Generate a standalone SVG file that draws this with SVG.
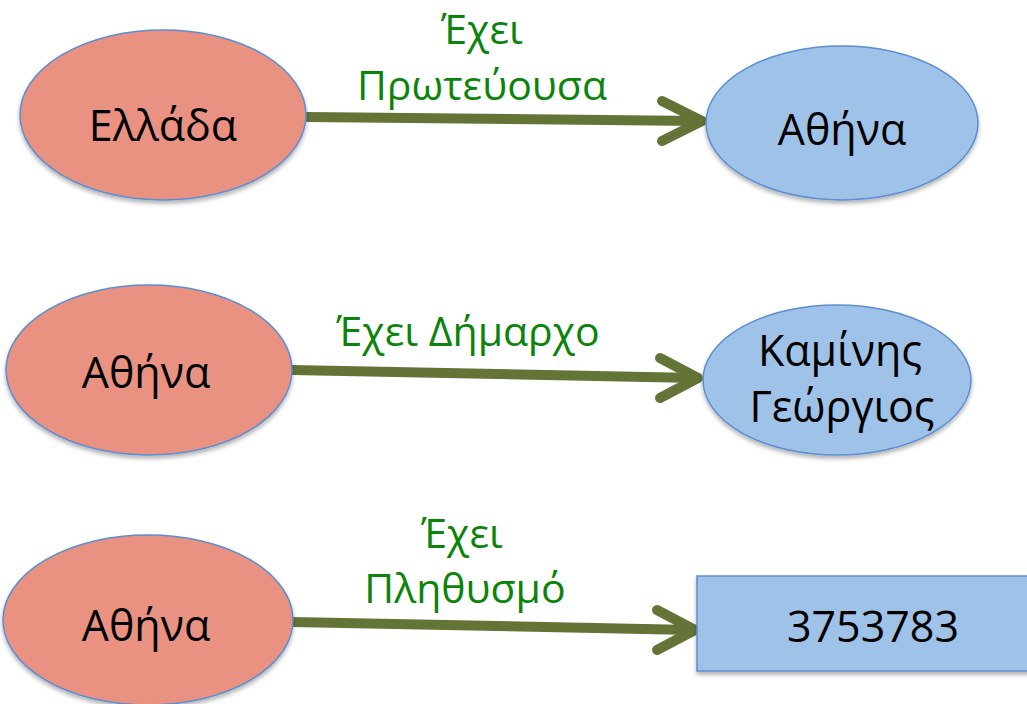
<svg xmlns="http://www.w3.org/2000/svg" width="1027" height="704" viewBox="0 0 1027 704">
<style>
.n{stroke:#5b8ed1;stroke-width:1.5;filter:url(#sh)}
.pink{fill:#e99282}
.blue{fill:#9fc2e8}
.t{font-family:"Open Sans","Noto Sans",sans-serif;font-size:43px;fill:#000;text-anchor:middle}
.l{font-family:"Open Sans","Noto Sans",sans-serif;font-size:41px;fill:#0a840a;text-anchor:middle}
.e{stroke:#647436;stroke-width:10;fill:none;stroke-linecap:round;stroke-linejoin:round}
</style>
<defs>
<filter id="sh" x="-10%" y="-10%" width="120%" height="130%">
<feDropShadow dx="0" dy="3" stdDeviation="2" flood-color="#000" flood-opacity="0.3"/>
</filter>
</defs>
<rect width="1027" height="704" fill="#fff"/>
<g id="edges">
<g id="e1"><path class="e" d="M307,117 L700,121"/><path class="e" d="M662,101 L702,121 L662,141"/></g>
<g id="e2"><path class="e" d="M292,370 L696,378"/><path class="e" d="M660,358 L698,378 L660,398"/></g>
<g id="e3"><path class="e" d="M292,622 L693,630"/><path class="e" d="M657,610 L695,630 L657,650"/></g>
</g>
<g id="labels">
<text class="l" x="482" y="44">Έχει</text>
<text class="l" x="482" y="100">Πρωτεύουσα</text>
<text class="l" x="468" y="346">Έχει Δήμαρχο</text>
<text class="l" x="462" y="548">Έχει</text>
<text class="l" x="465" y="603">Πληθυσμό</text>
</g>
<g id="n1"><ellipse class="n pink" cx="163" cy="115" rx="143" ry="85"/><text class="t" x="163" y="141">Ελλάδα</text></g>
<g id="n2"><ellipse class="n blue" cx="842" cy="123" rx="136" ry="77"/><text class="t" x="842" y="145">Αθήνα</text></g>
<g id="n3"><ellipse class="n pink" cx="149" cy="370" rx="143" ry="85"/><text class="t" x="146" y="388">Αθήνα</text></g>
<g id="n4"><ellipse class="n blue" cx="837" cy="380" rx="134" ry="75"/><text class="t" x="840" y="366">Καμίνης</text><text class="t" x="842" y="422">Γεώργιος</text></g>
<g id="n5"><ellipse class="n pink" cx="148" cy="620" rx="145" ry="85"/><text class="t" x="146" y="641">Αθήνα</text></g>
<g id="n6"><rect class="n blue" x="697" y="576" width="340" height="95"/><text class="t" x="873" y="642">3753783</text></g>
</svg>
